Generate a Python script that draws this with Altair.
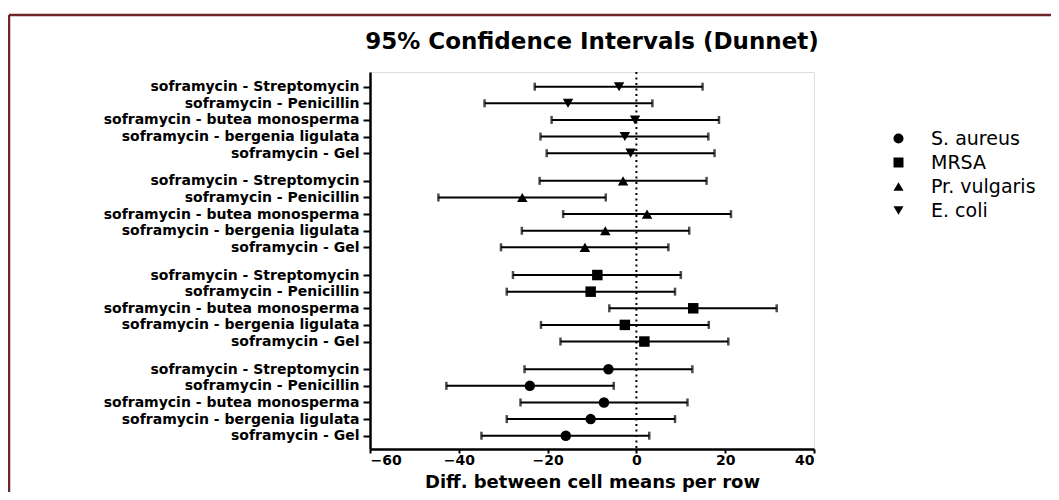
import json
import altair as alt
import pandas as pd

# ---- data ----
organisms = ["S. aureus", "MRSA", "Pr. vulgaris", "E. coli"]
comparisons = [
    "soframycin - Gel",
    "soframycin - bergenia ligulata",
    "soframycin - butea monosperma",
    "soframycin - Penicillin",
    "soframycin - Streptomycin",
]
shapes = ["circle", "square", "triangle-up", "triangle-down"]

# values in the order of `comparisons`
s_aureus_diff = [-15.9, -10.3, -7.3, -24.0, -6.3]
s_aureus_low = [-34.9, -29.2, -26.1, -42.8, -25.2]
s_aureus_high = [2.9, 8.7, 11.5, -5.1, 12.6]

mrsa_diff = [1.8, -2.6, 12.8, -10.3, -8.8]
mrsa_low = [-17.1, -21.5, -6.1, -29.2, -27.8]
mrsa_high = [20.7, 16.3, 31.6, 8.7, 10.0]

vulgaris_diff = [-11.6, -7.0, 2.4, -25.7, -3.0]
vulgaris_low = [-30.5, -25.8, -16.5, -44.6, -21.8]
vulgaris_high = [7.2, 11.9, 21.3, -6.9, 15.8]

ecoli_diff = [-1.3, -2.6, -0.3, -15.4, -3.9]
ecoli_low = [-20.2, -21.6, -19.1, -34.2, -22.9]
ecoli_high = [17.6, 16.2, 18.6, 3.6, 14.9]

x_ticks = [-60, -40, -20, 0, 20, 40]
zero_ref = [0]
title_text = "95% Confidence Intervals (Dunnet)"

# ---- table ----
series = [
    (s_aureus_diff, s_aureus_low, s_aureus_high),
    (mrsa_diff, mrsa_low, mrsa_high),
    (vulgaris_diff, vulgaris_low, vulgaris_high),
    (ecoli_diff, ecoli_low, ecoli_high),
]
ROW = 6
GROUP = 4 * ROW + 10
rows = []
for g, (org, (d, lo, hi)) in enumerate(zip(organisms, series)):
    for r, comp in enumerate(comparisons):
        rows.append(dict(organism=org, comparison=comp, pos=g * GROUP + r * ROW,
                         diff=d[r], low=lo[r], high=hi[r]))
df = pd.DataFrame(rows)
positions = sorted(df["pos"].tolist())

W, H = 444, 377
XT = "Diff. between cell means per row"
FONT = "DejaVu Sans"

xscale = alt.Scale(domain=[-60, 40], nice=False, zero=False)
yscale = alt.Scale(domain=[-4.8, 131.3], nice=False, zero=False)

label_expr = json.dumps(comparisons) + f"[round((datum.value % {GROUP}) / {ROW})]"

x_axis = alt.Axis(values=x_ticks, grid=False, title=XT, titleY=38.5, titleBaseline="alphabetic",
                  labelFont=FONT, labelFontSize=14, labelFontWeight="bold", labelColor="black",
                  titleFont=FONT, titleFontSize=18, titleFontWeight="bold", titleColor="black",
                  domainColor="black", domainWidth=2.5, tickColor="black", tickWidth=2,
                  tickSize=4, labelPadding=0)
y_axis = alt.Axis(values=positions, labelExpr=label_expr, grid=False, title=None,
                  labelFont=FONT, labelFontSize=14, labelFontWeight="bold", labelColor="black",
                  domainColor="black", domainWidth=2.5, tickColor="black", tickWidth=2,
                  tickSize=7, labelPadding=4, labelOverlap=False, labelBound=False,
                  labelLimit=0)

base = alt.Chart(df)

ci = base.mark_rule(color="black", strokeWidth=2).encode(
    x=alt.X("low:Q", scale=xscale, axis=x_axis, title=XT),
    x2="high:Q",
    y=alt.Y("pos:Q", scale=yscale, axis=y_axis, title=None),
)

caps = base.transform_fold(["low", "high"], as_=["end", "xv"]).mark_tick(
    orient="vertical", color="black", thickness=2.5, size=8
).encode(
    x=alt.X("xv:Q", scale=xscale, axis=x_axis, title=XT),
    y=alt.Y("pos:Q", scale=yscale, axis=y_axis, title=None),
)

points = base.mark_point(filled=True, color="black", opacity=1, size=110).encode(
    x=alt.X("diff:Q", scale=xscale, axis=x_axis, title=XT),
    y=alt.Y("pos:Q", scale=yscale, axis=y_axis, title=None),
    shape=alt.Shape(
        "organism:N",
        scale=alt.Scale(domain=organisms, range=shapes),
        legend=alt.Legend(title=None, orient="none", legendX=519, legendY=57,
                          labelFont=FONT, labelFontSize=19, labelColor="black",
                          symbolFillColor="black", symbolStrokeColor="black",
                          symbolStrokeWidth=0, symbolSize=100, labelOffset=23,
                          rowPadding=4, padding=0),
    ),
)

zero = alt.Chart(pd.DataFrame({"zero": zero_ref})).mark_rule(
    color="black", strokeWidth=2, strokeDash=[2, 3.5]
).encode(x=alt.X("zero:Q", scale=xscale, axis=x_axis, title=XT))

deco_df = pd.DataFrame({"t": [title_text]})
title_mark = alt.Chart(deco_df).mark_text(
    font=FONT, fontSize=23, fontWeight="bold", color="black",
    align="center", baseline="alphabetic"
).encode(text="t:N", x=alt.value(W / 2), y=alt.value(-23))

frame_top = alt.Chart(deco_df).mark_rule(color="#6e2628", strokeWidth=2.5).encode(
    x=alt.value(-361), x2=alt.value(681), y=alt.value(-57)
)
frame_left = alt.Chart(deco_df).mark_rule(color="#6e2628", strokeWidth=2.5).encode(
    x=alt.value(-361), y=alt.value(-57), y2=alt.value(440)
)

chart = alt.layer(frame_top, frame_left, title_mark, zero, ci, caps, points).properties(
    width=W,
    height=H,
    autosize=alt.AutoSizeParams(type="none"),
    padding={"left": 362, "top": 64, "right": 237, "bottom": 43},
).configure_view(stroke=None).configure(background="white").configure_axisY(
    labelOverlap=False, labelLimit=0
)

chart.save("out.html", embed_options={"renderer": "svg", "actions": False})
